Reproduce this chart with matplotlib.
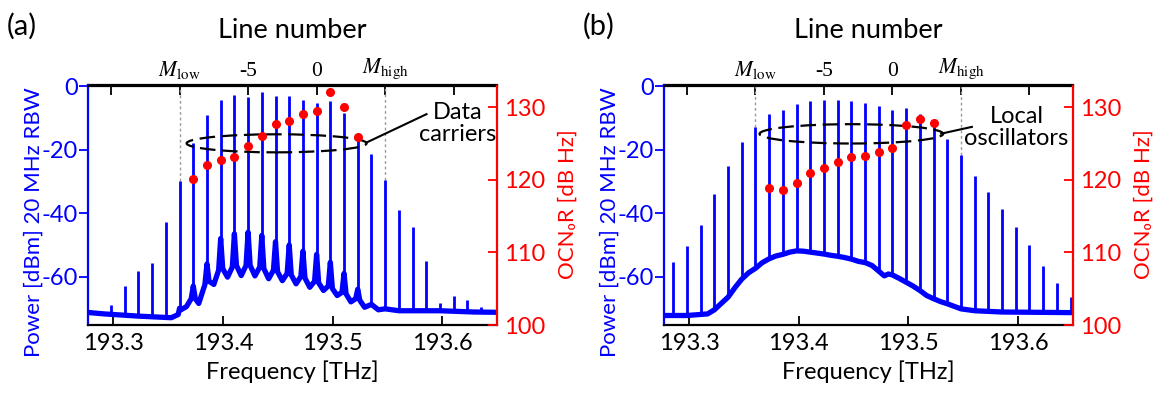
import numpy as np
import matplotlib.pyplot as plt
from matplotlib.patches import Ellipse

plt.rcParams['font.family'] = ['Lato', 'DejaVu Sans']
plt.rcParams['mathtext.fontset'] = 'stix'
plt.rcParams['axes.unicode_minus'] = False

# comb: line n sits at F0 + n*FSR (THz)
FSR = 0.0125
F0 = 193.4855

# panel (a) - data carriers
a_lines = list(range(-15, 13))
a_peaks = [-68.9, -62.9, -58.4, -55.6, -42.9, -29.8, -17.9, -9.1, -4.4, -2.8,
           -3.2, -1.9, -3.0, -3.0, -4.3, -5.1, -4.6, -8.5, -16.3, -21.4,
           -29.5, -39.0, -44.5, -55.2, -68.4, -66.0, -67.5, -69.5]
# spectrum floor / pedestal, read in line-number units
a_trace_n = [-16.8, -15.5, -13.0, -10.6, -10.1, -10.0, -9.9, -9.5, -9.15, -9.0, -8.85, -8.6,
             -8.15, -8.0, -7.85, -7.5, -7.15, -7.0, -6.85, -6.5, -6.15, -6.0, -5.85, -5.5,
             -5.15, -5.0, -4.85, -4.5, -4.15, -4.0, -3.85, -3.5, -3.15, -3.0, -2.85, -2.5,
             -2.15, -2.0, -1.85, -1.5, -1.15, -1.0, -0.85, -0.5, -0.15, 0.0, 0.15, 0.5,
             0.85, 1.0, 1.15, 1.5, 1.85, 2.0, 2.15, 2.5, 2.85, 3.0, 3.15, 3.5,
             4.0, 4.5, 5.0, 6.0, 9.0, 11.5, 13.3]
a_trace_p = [-71.3, -71.8, -72.5, -73.0, -72.0, -70.0, -70.5, -69.5, -67.0, -63.0, -67.0, -68.5,
             -62.5, -56.0, -61.5, -62.5, -58.0, -48.0, -57.5, -60.2, -57.0, -46.5, -56.5, -59.7,
             -56.5, -46.0, -56.5, -59.8, -57.0, -47.0, -57.5, -60.7, -58.0, -49.0, -58.5, -61.3,
             -59.0, -50.0, -59.5, -62.3, -60.0, -52.0, -60.5, -63.4, -61.5, -53.0, -62.0, -64.4,
             -63.0, -55.5, -63.8, -66.0, -65.0, -59.0, -65.5, -68.0, -67.0, -64.0, -67.5, -69.7,
             -68.8, -70.5, -70.2, -70.8, -70.8, -71.2, -71.3]
a_dot_lines = list(range(-9, 4))
a_ocnr = [120.1, 122.1, 122.8, 123.1, 124.6, 126.0, 127.7, 128.1, 129.1, 129.5, 132.1, 130.1, 125.9]

# panel (b) - local oscillators
b_lines = list(range(-16, 14))
b_peaks = [-55.5, -50.4, -43.7, -33.8, -25.0, -17.5, -12.9, -8.8, -7.3, -5.6,
           -4.6, -4.3, -4.4, -4.6, -5.1, -6.1, -7.4, -6.7, -8.8, -12.4,
           -16.6, -21.6, -28.2, -33.4, -38.7, -44.5, -50.2, -56.7, -62.1, -66.5]
b_trace_n = [-16.8, -15.0, -13.5, -13.0, -12.5, -12.0, -11.5, -11.0, -10.5, -10.0, -9.5, -9.0,
             -8.5, -8.0, -7.5, -7.0, -6.5, -6.0, -5.5, -5.0, -4.5, -4.0, -3.5, -3.0,
             -2.5, -2.0, -1.5, -1.0, -0.6, -0.3, 0.0, 0.5, 1.0, 1.5, 2.0, 2.5,
             3.0, 3.5, 4.0, 5.0, 6.0, 8.0, 13.3]
b_trace_p = [-72.3, -72.3, -71.8, -70.5, -68.5, -66.5, -63.5, -60.8, -58.8, -57.4, -55.6, -54.4,
             -53.5, -53.0, -52.3, -51.9, -52.0, -52.3, -52.6, -52.9, -53.3, -53.6, -54.0, -54.5,
             -55.2, -55.6, -56.5, -58.3, -59.8, -59.2, -59.5, -60.6, -61.8, -63.0, -64.4, -66.0,
             -67.0, -67.9, -68.6, -70.2, -70.8, -71.2, -71.4]
b_dot_lines = list(range(-9, 4))
b_ocnr = [118.9, 118.6, 119.6, 121.0, 121.6, 122.4, 123.1, 123.3, 123.8, 124.4, 127.5, 128.4, 127.8]

M_LOW, M_HIGH = -10, 5


def n2f(n):
    return F0 + np.asarray(n, dtype=float) * FSR


def f2n(f):
    return (np.asarray(f, dtype=float) - F0) / FSR


def panel(rect, lines, peaks, tr_n, tr_p, dot_lines, ocnr, ell, note, note_line, tag):
    ax = fig.add_axes(rect)
    tr_f = n2f(tr_n)
    ax.plot(tr_f, tr_p, color='blue', lw=3.8, solid_joinstyle='round', zorder=2)
    lf = n2f(lines)
    base = np.interp(lf, tr_f, tr_p)
    ax.vlines(lf, base, peaks, color='blue', lw=2.0, zorder=2)
    # M_low / M_high markers
    for m in (M_LOW, M_HIGH):
        pk = peaks[lines.index(m)]
        ax.vlines(n2f(m), pk, 0.3, color='#9a9a9a', lw=1.0, linestyles=(0, (2, 2)), zorder=1)
    ax.add_patch(Ellipse(ell[0], ell[1], ell[2], fill=False, ec='black', lw=1.6,
                         ls=(0, (7, 3)), zorder=3))
    ax.plot(note_line[0], note_line[1], color='black', lw=1.5, zorder=3)
    ax.text(note[0], note[1], note[2], ha='center', va='center', fontsize=17,
            linespacing=1.05, zorder=4)

    ax.set_xlim(193.277, 193.65)
    ax.set_ylim(-75.3, 0.3)
    ax.set_xticks([193.3, 193.4, 193.5, 193.6])
    ax.set_yticks([0, -20, -40, -60])
    ax.tick_params(axis='x', direction='in', length=6.5, width=1.3, labelsize=17, pad=6)
    ax.tick_params(axis='y', direction='out', length=6.5, width=1.3, labelsize=17,
                   colors='blue', pad=1)
    ax.set_xlabel('Frequency [THz]', fontsize=17, labelpad=4)
    ax.set_ylabel('Power [dBm] 20 MHz RBW', color='blue', fontsize=16)
    ax.yaxis.set_label_coords(-0.108, 0.43)
    ax.spines['left'].set_color('blue')
    ax.spines['right'].set_visible(False)
    for s in ax.spines.values():
        s.set_linewidth(1.6)

    top = ax.secondary_xaxis('top', functions=(f2n, n2f))
    top.set_xticks([-15, -10, -5, 0, 5, 10],
                   labels=['', r'$M_{\mathrm{low}}$', '-5', '0', r'$M_{\mathrm{high}}$', ''])
    top.tick_params(direction='in', length=7, width=1.3, labelsize=15.5, pad=3,
                    labelfontfamily='Liberation Serif')
    top.spines['top'].set_linewidth(1.6)
    ax.text(0.5, 1.197, 'Line number', transform=ax.transAxes, ha='center',
            va='baseline', fontsize=19.5)

    ax2 = ax.twinx()
    ax2.plot(n2f(dot_lines), ocnr, 'o', color='red', ms=5.5, zorder=5)
    ax2.set_ylim(100, 133)
    ax2.set_yticks([100, 110, 120, 130])
    ax2.tick_params(axis='y', direction='in', length=6.5, width=1.3, labelsize=17,
                    colors='red', pad=5)
    ax2.set_ylabel('OCN\u2080R [dB Hz]', color='red', fontsize=16)
    ax2.yaxis.set_label_coords(1.148, 0.505)
    for k in ('left', 'top', 'bottom'):
        ax2.spines[k].set_visible(False)
    ax2.spines['right'].set_color('red')
    ax2.spines['right'].set_linewidth(1.6)

    fig.text(rect[0] - 81 / 1157, 0.934, tag, fontsize=21, ha='left', va='center')
    return ax


fig = plt.figure(figsize=(11.57, 3.96), dpi=100)

panel([88 / 1157, 71 / 396, 409 / 1157, 239.5 / 396],
      a_lines, a_peaks, a_trace_n, a_trace_p, a_dot_lines, a_ocnr,
      ((193.449, -17.95), 0.1641, 5.7),
      (193.6138, -11.8, 'Data\ncarriers'),
      ([193.531, 193.5857], [-17.7, -8.75]), '(a)')

panel([664 / 1157, 71 / 396, 408.7 / 1157, 239.5 / 396],
      b_lines, b_peaks, b_trace_n, b_trace_p, b_dot_lines, b_ocnr,
      ((193.448, -14.96), 0.1676, 6.1),
      (193.5986, -12.9, 'Local\noscillators'),
      ([193.530, 193.558], [-14.9, -12.76]), '(b)')

fig.savefig('out.png', dpi=100)
